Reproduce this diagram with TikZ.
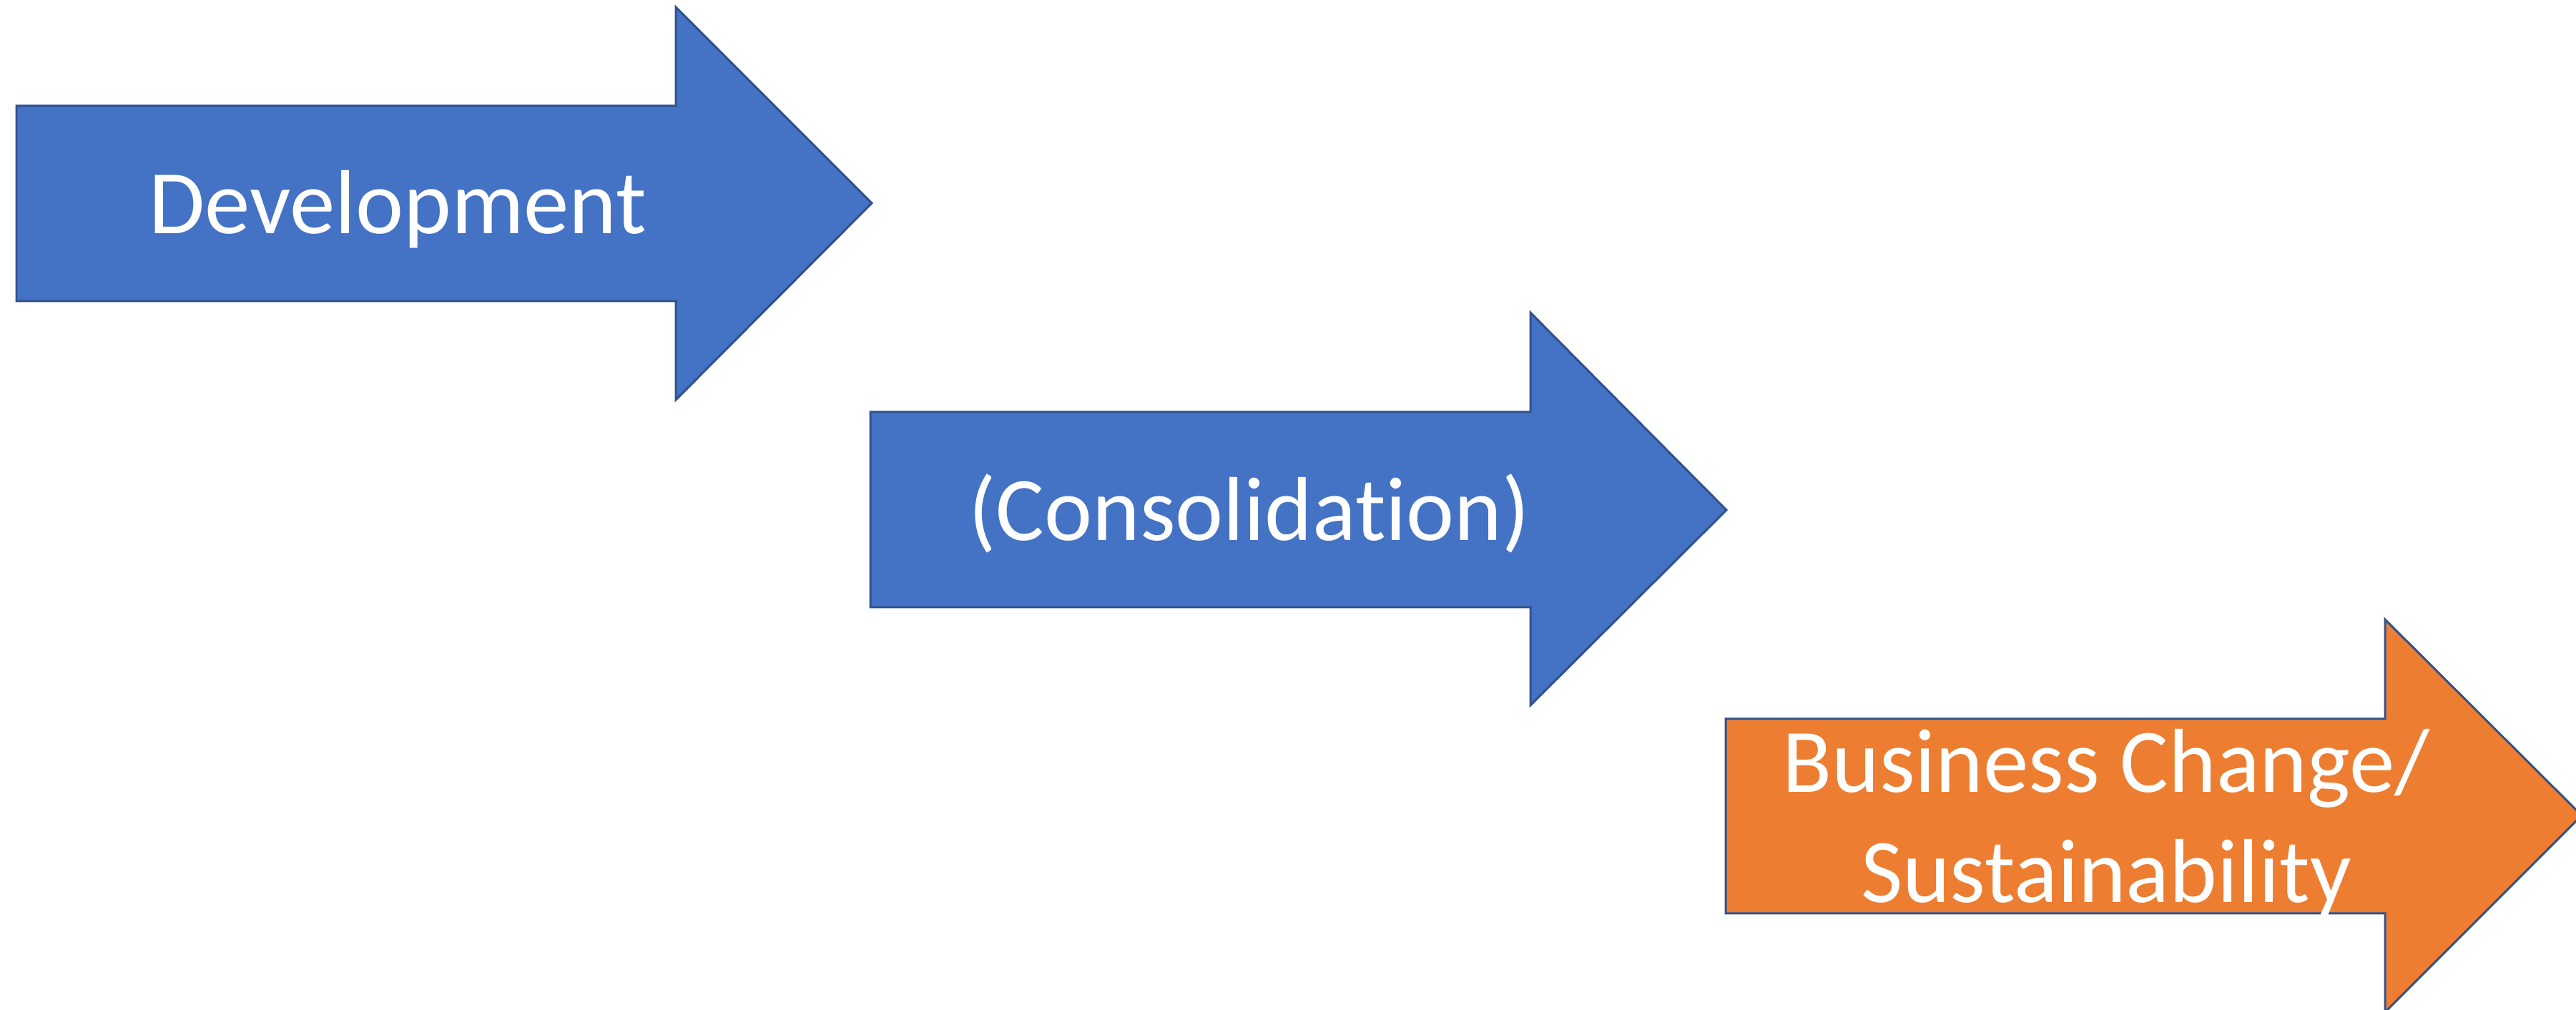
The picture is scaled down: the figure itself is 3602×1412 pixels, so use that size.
\documentclass[tikz,border=0pt]{standalone}
\usepackage{fontspec}
\setmainfont{Carlito}[Ligatures={NoCommon}]
\definecolor{abl}{HTML}{4472C4}
\definecolor{aor}{HTML}{ED7D31}
\definecolor{aln}{HTML}{2F528F}
\begin{document}
\begin{tikzpicture}[x=0.1pt,y=-0.1pt,
  shp/.style={draw=aln,line width=0.3pt,line join=miter},
  lbl/.style={text=white,font=\fontsize{12.7pt}{15.5pt}\selectfont,inner sep=0pt,anchor=base,align=center}]
\useasboundingbox (0,0) rectangle (3602,1412);
\begin{scope}
\clip (0,0) rectangle (3602,1412);
% arrow 1
\path[shp,fill=abl] (23,148) -- (945,148) -- (945,10) -- (1219,284) -- (945,559) -- (945,421) -- (23,421) -- cycle;
% arrow 2
\path[shp,fill=abl] (1217,576) -- (2140,576) -- (2140,437) -- (2414,713) -- (2140,986) -- (2140,849) -- (1217,849) -- cycle;
% arrow 3
\path[shp,fill=aor] (2413,1005) -- (3335,1005) -- (3335,866) -- (3610,1140) -- (3335,1415) -- (3335,1277) -- (2413,1277) -- cycle;
\end{scope}
\node[lbl] (dev) at (556,327) {Development};
\node[lbl] (con) at (1747,756) {(Consolidation)};
\node[lbl] (bus) at (2945,1262) {Business Change/\\Sustainability};
\end{tikzpicture}
\end{document}
